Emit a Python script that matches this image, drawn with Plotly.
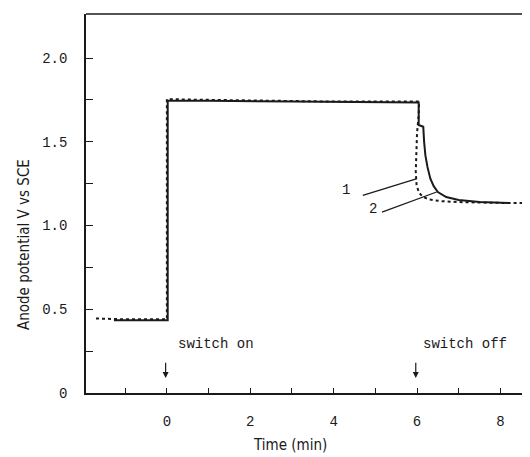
import plotly.graph_objects as go

# Curve 1 (dotted)
t1 = [-1.7, -1.0, 0.0, 0.0, 0.5, 2.0, 4.0, 6.05, 6.04, 6.0, 5.98, 5.97, 5.99, 6.05, 6.15, 6.3, 6.6, 7.0, 8.0, 8.75]
v1 = [0.445, 0.44, 0.44, 1.755, 1.752, 1.745, 1.74, 1.74, 1.66, 1.55, 1.45, 1.32, 1.24, 1.195, 1.17, 1.155, 1.145, 1.14, 1.135, 1.135]

# Curve 2 (solid)
t2 = [-1.27, -0.5, 0.02, 0.02, 1.0, 3.0, 5.0, 6.04, 6.04, 6.15, 6.17, 6.2, 6.25, 6.32, 6.4, 6.5, 6.7, 7.0, 7.5, 8.2]
v2 = [0.435, 0.435, 0.435, 1.745, 1.745, 1.74, 1.737, 1.735, 1.6, 1.59, 1.5, 1.42, 1.35, 1.28, 1.235, 1.2, 1.17, 1.152, 1.14, 1.135]

y_ticks = [0, 0.25, 0.5, 0.75, 1.0, 1.25, 1.5, 1.75, 2.0]
y_labels = ["0", "", "0.5", "", "1.0", "", "1.5", "", "2.0"]
x_ticks = [-1, 0, 1, 2, 3, 4, 5, 6, 7, 8]
x_labels = ["", "0", "", "2", "", "4", "", "6", "", "8"]

mono = "Liberation Mono, DejaVu Sans Mono, monospace"
narrow = "Liberation Sans Narrow, DejaVu Sans Condensed, Arial Narrow, Liberation Sans, sans-serif"
ink = "#1a1a1a"

fig = go.Figure()
fig.add_trace(go.Scatter(x=t1, y=v1, mode="lines",
                         line=dict(color=ink, width=2, dash="dot"), showlegend=False))
fig.add_trace(go.Scatter(x=t2, y=v2, mode="lines",
                         line=dict(color=ink, width=2), showlegend=False))

fig.update_layout(
    width=522, height=449,
    margin=dict(l=78, r=0, t=6, b=64),
    paper_bgcolor="white", plot_bgcolor="white",
    font=dict(family=mono, size=14, color=ink),
    xaxis=dict(range=[-1.94, 8.71], showgrid=False, zeroline=False,
               showline=True, linecolor=ink, linewidth=1.5,
               tickmode="array", tickvals=x_ticks, ticktext=x_labels,
               ticks="inside", ticklen=5, tickcolor=ink, tickwidth=1,
               ticklabelstandoff=14, tickfont=dict(family=mono, size=14)),
    yaxis=dict(range=[0, 2.263], showgrid=False, zeroline=False,
               showline=True, linecolor=ink, linewidth=1.5,
               tickmode="array", tickvals=y_ticks, ticktext=y_labels,
               ticks="inside", ticklen=7, tickcolor=ink, tickwidth=1,
               ticklabelstandoff=14, tickfont=dict(family=mono, size=14)),
)

# top border
fig.add_shape(type="line", xref="paper", yref="paper", x0=0, x1=1, y0=1, y1=1,
              line=dict(color=ink, width=1.5))

# axis titles
fig.add_annotation(text="Time (min)", xref="paper", yref="paper",
                   x=(290 - 86) / 444, y=-52 / 379, showarrow=False,
                   xanchor="center", yanchor="middle",
                   font=dict(family=narrow, size=15, color=ink))
fig.add_annotation(text="Anode potential V vs SCE", xref="paper", yref="paper",
                   x=(24 - 86) / 444, y=(393 - 245) / 379, showarrow=False, textangle=-90,
                   xanchor="center", yanchor="middle",
                   font=dict(family=narrow, size=15, color=ink))

# switch labels and arrows
fig.add_annotation(text="switch on", x=1.17, y=0.29, showarrow=False,
                   font=dict(family=mono, size=14, color=ink))
fig.add_annotation(text="switch off", x=7.15, y=0.29, showarrow=False,
                   font=dict(family=mono, size=14, color=ink))
for xa in [0, 6]:
    fig.add_annotation(text="", x=xa - 0.03, y=0.09, ax=xa - 0.03, ay=0.19,
                       xref="x", yref="y", axref="x", ayref="y",
                       showarrow=True, arrowhead=2, arrowsize=1, arrowwidth=1.2,
                       arrowcolor=ink)

# curve labels with leader lines
fig.add_annotation(text="1", x=4.29, y=1.21, showarrow=False,
                   font=dict(family=mono, size=14, color=ink))
fig.add_annotation(text="2", x=4.94, y=1.10, showarrow=False,
                   font=dict(family=mono, size=14, color=ink))
fig.add_shape(type="line", x0=4.70, y0=1.18, x1=6.0, y1=1.28, line=dict(color=ink, width=1.2))
fig.add_shape(type="line", x0=5.16, y0=1.08, x1=6.47, y1=1.20, line=dict(color=ink, width=1.2))

fig.write_html("out.html")
